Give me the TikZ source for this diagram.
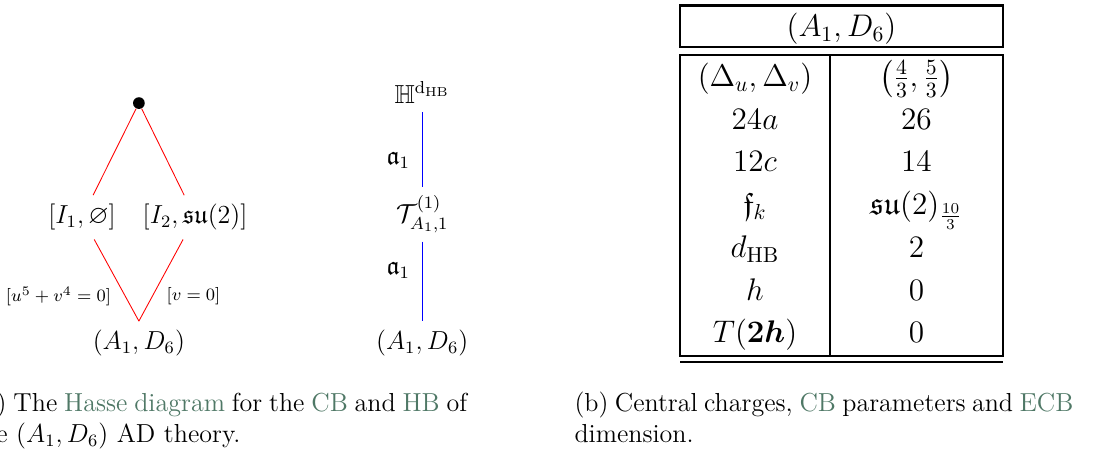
\documentclass[tikz,border=0pt,12pt]{standalone}
\usepackage{amsmath,amssymb}
\usepackage{tikz}
\definecolor{glslink}{rgb}{0.31,0.47,0.40}
\newcommand{\glscol}[1]{\textcolor{glslink}{#1}}
\tikzstyle{vertex} = [circle, fill=black, inner sep=0pt, minimum size=0.19cm]
\tikzstyle{cbline} = [red]
\tikzstyle{hbline} = [blue]
\tikzstyle{edgelabel} = [text=black, font=\fontsize{8.2}{10}\selectfont]
\tikzstyle{hblabel} = [text=black]
\tikzstyle{tabcell} = [anchor=base, font=\large]
\tikzstyle{tabrule} = [line width=1.1pt]
\tikzstyle{captext} = [anchor=base west, inner sep=0pt]

\begin{document}
\begin{tikzpicture}[node distance=2.04cm]
\useasboundingbox (0,0) rectangle (18.03,-7.353);
\clip (0,0) rectangle (18.03,-7.353);

% Coulomb branch
\node (cbbot) at (2.25,-5.56) {$(A_1,D_6)$};
\node (cbleft) [above of=cbbot, xshift=-0.92cm] {$[I_1,\varnothing]$};
\node (cbright) [above of=cbbot, xshift=0.91cm] {$[I_2,\mathfrak{su}(2)]$};
\node (cbtop) [vertex, above of=cbbot, yshift=1.85cm] {};

% Higgs branch
\node (hbbot) at (6.84,-5.56) {$(A_1,D_6)$};
\node (hbmid) [above of=hbbot, yshift=0.05cm] {$\mathcal{T}^{(1)}_{A_1,1}$};
\node (hbtop) [above of=hbmid, yshift=-0.07cm] {$\mathbb{H}^{\mathrm{d}_{\mathrm{HB}}}$};

% Lines
\draw [cbline] (cbtop) -- (cbleft);
\draw [cbline] (cbtop) -- (cbright);
\draw [cbline] (cbleft) -- node[edgelabel, left=2.5pt, pos=0.7] {$[u^5+v^4=0]$} (cbbot.north);
\draw [cbline] (cbright) -- node[edgelabel, right=2.5pt, pos=0.7] {$[v=0]$} (cbbot.north);

\draw [hbline] (hbtop) -- node[hblabel, left=1.5pt, pos=0.65] {$\mathfrak{a}_1$} (hbmid);
\draw [hbline] (hbmid) -- node[hblabel, left=1.5pt, pos=0.36] {$\mathfrak{a}_1$} (hbbot);

% Table
\draw [tabrule] (11.016,-0.092) rectangle (16.249,-0.757);
\node (header) [tabcell] at (13.632,-0.595) {$(A_1,D_6)$};

\draw [tabrule] (11.016,-0.891) rectangle (16.249,-5.767);
\draw [tabrule] (13.446,-0.891) -- (13.446,-5.767);
\draw [tabrule] (11.016,-5.864) -- (16.249,-5.864);

\node (qname1) [tabcell] at (12.231,-1.401) {$(\Delta_u,\Delta_v)$};
\node (qval1) [tabcell] at (14.847,-1.401) {$\left(\frac{4}{3},\frac{5}{3}\right)$};
\node (qname2) [tabcell] at (12.231,-2.093) {$24a$};
\node (qval2) [tabcell] at (14.847,-2.093) {$26$};
\node (qname3) [tabcell] at (12.231,-2.786) {$12c$};
\node (qval3) [tabcell] at (14.847,-2.786) {$14$};
\node (qname4) [tabcell] at (12.231,-3.478) {$\mathfrak{f}_k$};
\node (qval4) [tabcell] at (14.847,-3.478) {$\mathfrak{su}(2)_{\frac{10}{3}}$};
\node (qname5) [tabcell] at (12.231,-4.170) {$d_{\mathrm{HB}}$};
\node (qval5) [tabcell] at (14.847,-4.170) {$2$};
\node (qname6) [tabcell] at (12.231,-4.863) {$h$};
\node (qval6) [tabcell] at (14.847,-4.863) {$0$};
\node (qname7) [tabcell] at (12.231,-5.555) {$T(\boldsymbol{2h})$};
\node (qval7) [tabcell] at (14.847,-5.555) {$0$};

% Captions
\node (capa1) [captext] at (-0.06,-6.674) {\makebox[7.62cm][s]{) The \glscol{Hasse diagram} for the \glscol{CB} and \glscol{HB} of}};
\node (capa2) [captext] at (-0.065,-7.176) {e $(A_1,D_6)$ AD theory.};
\node (capb1) [captext] at (9.30,-6.674) {\makebox[8.08cm][s]{(b) Central charges, \glscol{CB} parameters and \glscol{ECB}}};
\node (capb2) [captext] at (9.30,-7.176) {dimension.};

\end{tikzpicture}
\end{document}
